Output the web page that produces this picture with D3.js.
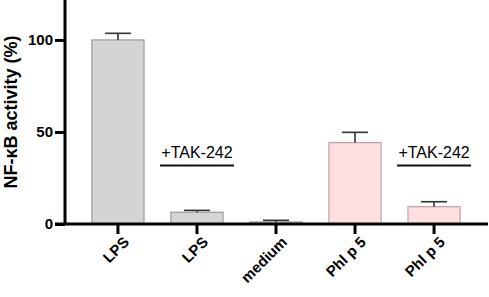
<!DOCTYPE html>
<html>
<head>
<script src="https://d3js.org/d3.v7.min.js"></script>
<style>
  body { margin: 0; background: #fff; }
  text { font-family: "Liberation Sans", Arial, sans-serif; }
  .cat { font-size: 15px; font-weight: bold; }
</style>
</head>
<body>
<svg class="target" width="489" height="297"></svg>
<script>

// data
categories = ['LPS', 'LPS', 'medium', 'Phl p 5', 'Phl p 5']
means = [100, 6.4, 1.1, 44.2, 9.4]
errors = [3.6, 1.0, 0.9, 5.6, 2.7]
fills = ['#d4d4d4', '#d4d4d4', '#e2e6ec', '#ffe0e0', '#ffe0e0']
strokes = ['#9a9a9a', '#9a9a9a', '#8f98a2', '#b8a4a4', '#b8a4a4']
treated = [1, 4]          // bars with the +TAK-242 mark
yTicks = [0, 50, 100]

width = 489
height = 297
margin = ({ top: 0, right: 2, bottom: 73, left: 65 })

const svg = d3.select('.target')

xScale = d3.scaleBand(categories.map((d, i) => i), [margin.left, width - margin.right])
  .paddingInner(0.34)
  .paddingOuter(0.34)

yScale = d3.scaleLinear([0, 121.7], [height - margin.bottom, margin.top])

// bars
svg.append('g')
  .selectAll('rect')
  .data(means)
  .join('rect')
    .attr('x', (d, i) => xScale(i))
    .attr('y', d => yScale(d))
    .attr('width', xScale.bandwidth())
    .attr('height', d => yScale(0) - yScale(d))
    .attr('fill', (d, i) => fills[i])
    .attr('stroke', (d, i) => strokes[i])
    .attr('stroke-width', 1.2)

// error bars (upper only)
const err = svg.append('g').attr('stroke', '#333').attr('stroke-width', 1.6)
means.forEach((m, i) => {
  const cx = xScale(i) + xScale.bandwidth() / 2
  err.append('line')
    .attr('x1', cx).attr('x2', cx)
    .attr('y1', yScale(m)).attr('y2', yScale(m + errors[i]))
  err.append('line')
    .attr('x1', cx - 13).attr('x2', cx + 13)
    .attr('y1', yScale(m + errors[i])).attr('y2', yScale(m + errors[i]))
})

// +TAK-242 annotations
treated.forEach(i => {
  const cx = xScale(i) + xScale.bandwidth() / 2
  svg.append('text')
    .attr('x', cx).attr('y', 158)
    .attr('text-anchor', 'middle')
    .style('font-size', '16px')
    .text('+TAK-242')
  svg.append('line')
    .attr('x1', cx - 37).attr('x2', cx + 37)
    .attr('y1', 165.5).attr('y2', 165.5)
    .attr('stroke', '#111').attr('stroke-width', 2)
})

// axes
xAxis = d3.axisBottom(xScale).tickSize(10).tickFormat('')
yAxis = d3.axisLeft(yScale).tickValues(yTicks).tickSize(10)

const gx = svg.append('g')
    .attr('transform', `translate(0,${ height - margin.bottom })`)
    .call(xAxis)
gx.select('.domain').attr('d', `M${margin.left - 10},0H${width - 1}`)
gx.selectAll('line, path').attr('stroke', '#000').attr('stroke-width', 3)
gx.selectAll('.tick text').remove()

// rotated category labels, placed from the band scale
categories.forEach((c, i) => {
  const tx = Math.round(xScale(i) + xScale.bandwidth() / 2 + 12)
  const ty = Math.round(yScale(0) + 19)
  svg.append('text')
    .attr('class', 'cat')
    .attr('text-anchor', 'end')
    .attr('transform', 'translate(' + tx + ',' + ty + ') rotate(-45)')
    .text(c)
})

const gy = svg.append('g')
    .attr('transform', `translate(${ margin.left },0)`)
    .call(yAxis)
gy.select('.domain').attr('d', `M0,${yScale(0)}V0`)
gy.selectAll('line, path').attr('stroke', '#000').attr('stroke-width', 3)
gy.selectAll('text')
    .style('font-size', '15px')
    .style('font-weight', 'bold')
    .attr('fill', '#000')
    .attr('x', -12)

svg.append('text')
    .attr('transform', `translate(17,${ yScale(0) / 2 }) rotate(-90)`)
    .attr('text-anchor', 'middle')
    .style('font-size', '18px')
    .style('font-weight', 'bold')
    .text('NF-κB activity (%)')

</script>
</body>
</html>
